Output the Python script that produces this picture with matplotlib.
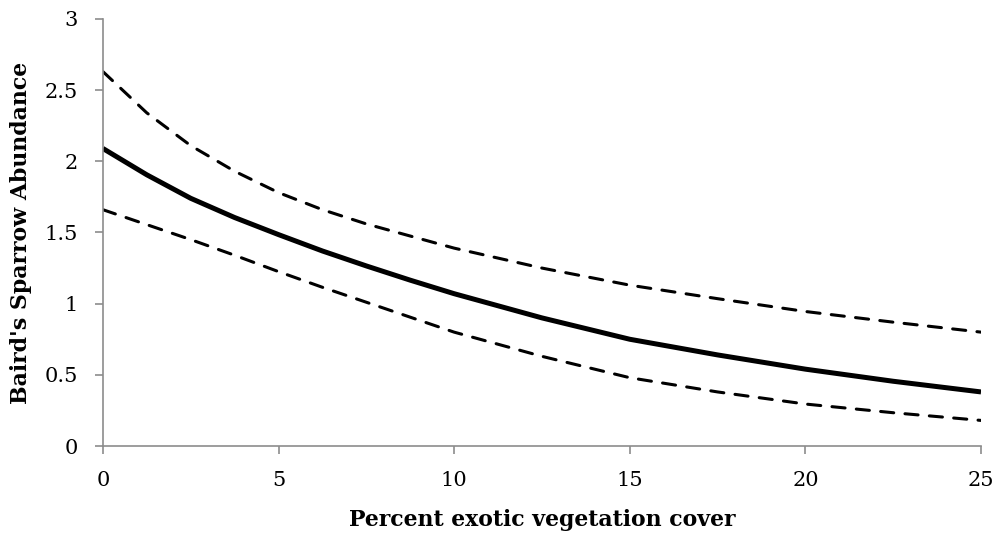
import matplotlib
matplotlib.use("Agg")
import matplotlib.pyplot as plt

plt.rcParams["font.family"] = ["DejaVu Serif"]

# Predicted abundance along the exotic cover gradient, with 95% limits
cover = [0, 1.25, 2.5, 3.75, 5, 6.25, 7.5, 8.75, 10, 12.5, 15, 17.5, 20, 22.5, 25]
abundance = [2.09, 1.905, 1.74, 1.605, 1.485, 1.37, 1.265, 1.165, 1.07,
             0.90, 0.75, 0.64, 0.54, 0.455, 0.38]
upper_ci = [2.63, 2.34, 2.11, 1.93, 1.78, 1.66, 1.56, 1.475, 1.39,
            1.25, 1.13, 1.035, 0.945, 0.87, 0.80]
lower_ci = [1.66, 1.555, 1.45, 1.34, 1.225, 1.115, 1.01, 0.905, 0.80,
            0.63, 0.48, 0.38, 0.295, 0.234, 0.18]

fig = plt.figure(figsize=(9.99, 5.40), dpi=100)
ax = fig.add_axes([0.103, 0.174, 0.879, 0.791])

ax.plot(cover, abundance, color="black", linewidth=3.6,
        solid_capstyle="butt", solid_joinstyle="round")
for band in (upper_ci, lower_ci):
    ax.plot(cover, band, color="black", linewidth=2.2,
            dashes=(4.3, 3.7), dash_capstyle="round")

ax.set_xlim(0, 25)
ax.set_ylim(0, 3)
ax.set_xticks([0, 5, 10, 15, 20, 25])
ax.set_yticks([0, 0.5, 1, 1.5, 2, 2.5, 3])
ax.set_yticklabels(["0", "0.5", "1", "1.5", "2", "2.5", "3"])

for side in ("top", "right"):
    ax.spines[side].set_visible(False)
for side in ("left", "bottom"):
    ax.spines[side].set_color("#8c8c8c")
    ax.spines[side].set_linewidth(1.2)

ax.tick_params(direction="out", length=6, width=1.2, color="#8c8c8c",
               labelsize=15, pad=12)

ax.set_xlabel("Percent exotic vegetation cover", fontsize=15.8, fontweight="bold")
ax.set_ylabel("Baird's Sparrow Abundance", fontsize=15.8, fontweight="bold")
ax.xaxis.set_label_coords(0.5, -0.148)
ax.yaxis.set_label_coords(-0.081, 0.5)

fig.savefig("out.png", dpi=100)
